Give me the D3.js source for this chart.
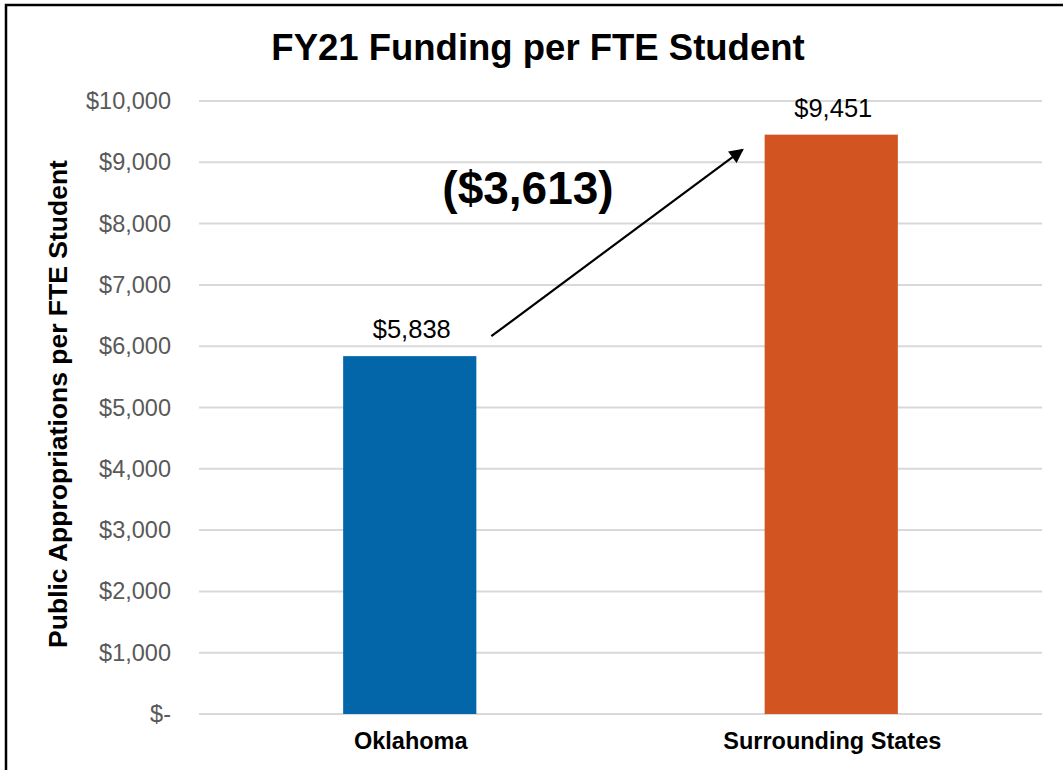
<!DOCTYPE html>
<html><head><meta charset="utf-8">
<script src="https://cdn.jsdelivr.net/npm/d3@7"></script>
<style>body{margin:0;background:#fff}svg{display:block}</style>
</head><body>
<svg id="c" width="1063" height="770"></svg>
<script>
const categories = ["Oklahoma", "Surrounding States"];
const values = [5838, 9451];
const barColors = ["#0266A9", "#D25421"];
const yTicks = [0,1000,2000,3000,4000,5000,6000,7000,8000,9000,10000];
const gapLabel = "($3,613)";
const title = "FY21 Funding per FTE Student";
const yTitle = "Public Appropriations per FTE Student";

(function(){
const svg = d3.select("#c");
const font = "'Liberation Sans', Arial, sans-serif";

// frame
svg.append("rect").attr("x",6).attr("y",5).attr("width",1070).attr("height",800)
  .attr("fill","none").attr("stroke","#000").attr("stroke-width",2.5);

const pLeft = 199, pRight = 1042, pTop = 101, pBottom = 714;
const x = d3.scaleBand().domain(categories).range([pLeft,pRight]).paddingInner(0.684).paddingOuter(0.342);
const y = d3.scaleLinear().domain([0,10000]).range([pBottom, pTop]);

const fmt = v => v === 0 ? "$-" : "$" + d3.format(",")(v);

// grid
svg.append("g").selectAll("line").data(yTicks).join("line")
  .attr("x1",pLeft).attr("x2",pRight)
  .attr("y1",d=>y(d)).attr("y2",d=>y(d))
  .attr("stroke","#d9d9d9").attr("stroke-width",2);

// y axis labels
const yAxis = d3.axisLeft(y).tickValues(yTicks).tickFormat(fmt).tickSize(0).tickPadding(0);
const yg = svg.append("g").attr("transform",`translate(171,0)`).call(yAxis);
yg.select(".domain").remove();
yg.selectAll("text").attr("font-family",font).attr("font-size",23.5).attr("fill","#595959");

// bars
svg.append("g").selectAll("rect").data(values).join("rect")
  .attr("x",(d,i)=>x(categories[i])).attr("width",x.bandwidth())
  .attr("y",d=>y(d)).attr("height",d=>pBottom-y(d))
  .attr("fill",(d,i)=>barColors[i]);

// value labels
svg.append("g").selectAll("text").data(values).join("text")
  .attr("x",(d,i)=>x(categories[i])+x.bandwidth()/2+2)
  .attr("y",d=>y(d)-18)
  .attr("text-anchor","middle").attr("font-family",font).attr("font-size",25.5).attr("fill","#000")
  .text(d=>"$"+d3.format(",")(d));

// x axis labels
const xAxis = d3.axisBottom(x).tickSize(0).tickPadding(0);
const xg = svg.append("g").attr("transform",`translate(0,0)`).call(xAxis);
xg.select(".domain").remove();
xg.selectAll("text").attr("y",749).attr("dy",null).attr("dx",1)
  .attr("font-family",font).attr("font-size",23.5).attr("font-weight","bold").attr("fill","#000");

// title
svg.append("text").attr("x",538).attr("y",60).attr("text-anchor","middle")
  .attr("font-family",font).attr("font-size",36.5).attr("font-weight","bold").text(title);

// y title
svg.append("text").attr("transform",`translate(67,404) rotate(-90)`)
  .attr("text-anchor","middle").attr("font-family",font).attr("font-size",26.5).attr("font-weight","bold").text(yTitle);

// annotation
svg.append("text").attr("x",528).attr("y",204).attr("text-anchor","middle")
  .attr("font-family",font).attr("font-size",46).attr("font-weight","bold").text(gapLabel);

// arrow
const defs = svg.append("defs");
defs.append("marker").attr("id","ah").attr("viewBox","0 0 10 10").attr("refX",9).attr("refY",5)
  .attr("markerWidth",7).attr("markerHeight",6.5).attr("markerUnits","strokeWidth").attr("orient","auto")
  .append("path").attr("d","M0,0 L10,5 L0,10 Z").attr("fill","#000");
const x0 = x(categories[0]) + x.bandwidth() + 15;
const x1 = x(categories[1]) - 22;
svg.append("line").attr("x1",x0).attr("y1",y(values[0])-20).attr("x2",x1).attr("y2",y(values[1])+15)
  .attr("stroke","#000").attr("stroke-width",2.2).attr("marker-end","url(#ah)");
})();
</script>
</body></html>
